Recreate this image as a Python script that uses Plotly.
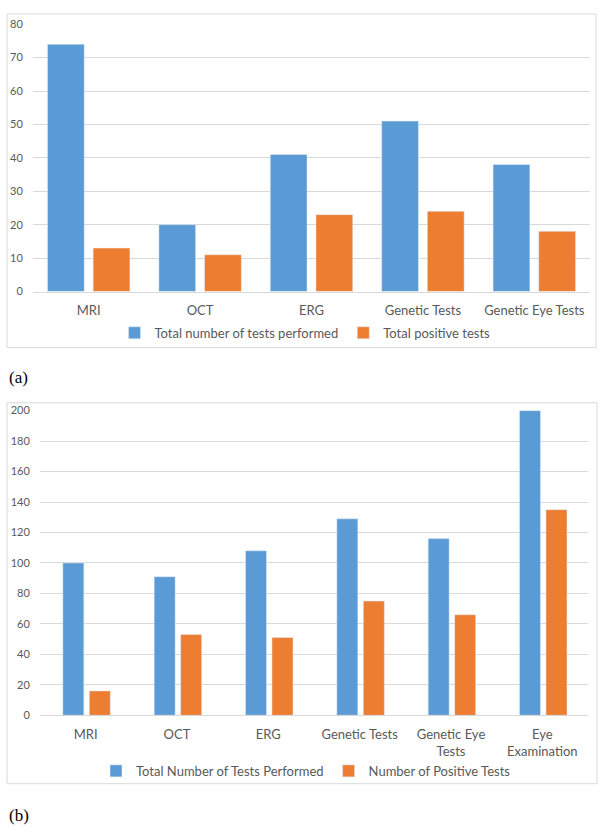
import plotly.graph_objects as go

# ---- data ----
cats_a = ["MRI", "OCT", "ERG", "Genetic Tests", "Genetic Eye Tests"]
total_a = [74, 20, 41, 51, 38]
positive_a = [13, 11, 23, 24, 18]
name_total_a = "Total number of tests performed"
name_pos_a = "Total positive tests"

cats_b = ["MRI", "OCT", "ERG", "Genetic Tests", "Genetic Eye<br>Tests", "Eye<br>Examination"]
total_b = [100, 91, 108, 129, 116, 200]
positive_b = [16, 53, 51, 75, 66, 135]
name_total_b = "Total Number of Tests Performed"
name_pos_b = "Number of Positive Tests"

ticks_a = [0, 10, 20, 30, 40, 50, 60, 70, 80]
ticks_b = [0, 20, 40, 60, 80, 100, 120, 140, 160, 180, 200]

BLUE = "#5B9BD5"
ORANGE = "#ED7D31"
GRID = "#D9D9D9"
TXT = "#595959"
FONT = "Lato, 'Open Sans', sans-serif"

W, H = 604, 836
def px(x):
    return x / W
def py(y):
    return 1 - y / H

fig = go.Figure()
fig.add_trace(go.Bar(x=cats_a, y=total_a, name=name_total_a, marker_color=BLUE,
                     width=0.33, offset=-0.37,
                     xaxis="x", yaxis="y", legend="legend"))
fig.add_trace(go.Bar(x=cats_a, y=positive_a, name=name_pos_a, marker_color=ORANGE,
                     width=0.33, offset=0.04,
                     xaxis="x", yaxis="y", legend="legend"))
fig.add_trace(go.Bar(x=cats_b, y=total_b, name=name_total_b, marker_color=BLUE,
                     width=0.23, offset=-0.25,
                     xaxis="x2", yaxis="y2", legend="legend2"))
fig.add_trace(go.Bar(x=cats_b, y=positive_b, name=name_pos_b, marker_color=ORANGE,
                     width=0.23, offset=0.04,
                     xaxis="x2", yaxis="y2", legend="legend2"))

xcommon = dict(showgrid=False, showline=True, linecolor=GRID, linewidth=1,
               ticks="outside", ticklen=7, tickcolor="rgba(0,0,0,0)",
               tickfont=dict(family=FONT, size=13, color=TXT), fixedrange=True)
ycommon = dict(showgrid=True, gridcolor=GRID, gridwidth=1, zeroline=False,
               showline=False, ticks="outside", ticklen=7, tickcolor="rgba(0,0,0,0)",
               tickfont=dict(family=FONT, size=11, color=TXT), fixedrange=True)

fig.update_layout(
    width=W, height=H,
    margin=dict(l=0, r=0, t=0, b=0),
    paper_bgcolor="white", plot_bgcolor="white",
    barmode="overlay",
    xaxis=dict(domain=[px(33), px(590)], anchor="y", **xcommon),
    yaxis=dict(domain=[py(289), py(17.5)], anchor="x", range=[0, 80],
               tickvals=ticks_a, **ycommon),
    xaxis2=dict(domain=[px(40), px(588)], anchor="y2", **xcommon),
    yaxis2=dict(domain=[py(719.5), py(410)], anchor="x2", range=[0, 200],
                tickvals=ticks_b, **ycommon),
    legend=dict(orientation="h", x=px(305), y=py(331), xanchor="center", yanchor="middle",
                font=dict(family=FONT, size=13, color=TXT), bgcolor="rgba(0,0,0,0)",
                itemwidth=30, tracegroupgap=0),
    legend2=dict(orientation="h", x=px(306), y=py(776), xanchor="center", yanchor="middle",
                 font=dict(family=FONT, size=13, color=TXT), bgcolor="rgba(0,0,0,0)",
                 itemwidth=30, tracegroupgap=0),
    showlegend=True,
)

# frames around each chart
fig.add_shape(type="rect", xref="paper", yref="paper",
              x0=px(7), x1=px(596), y0=py(346), y1=py(7),
              line=dict(color=GRID, width=1), fillcolor="rgba(0,0,0,0)", layer="below")
fig.add_shape(type="rect", xref="paper", yref="paper",
              x0=px(7), x1=px(597), y0=py(789), y1=py(402),
              line=dict(color=GRID, width=1), fillcolor="rgba(0,0,0,0)", layer="below")

# panel labels
for lab, yy in [("(a)", 376), ("(b)", 821)]:
    fig.add_annotation(text=lab, xref="paper", yref="paper", x=px(7), y=py(yy),
                       xanchor="left", yanchor="middle", showarrow=False,
                       font=dict(family="Liberation Serif, Times New Roman, serif",
                                 size=17, color="black"))

fig.write_html("out.html", config={"displayModeBar": False},
               post_script="document.body.style.margin='0';document.body.style.overflow='hidden';")
